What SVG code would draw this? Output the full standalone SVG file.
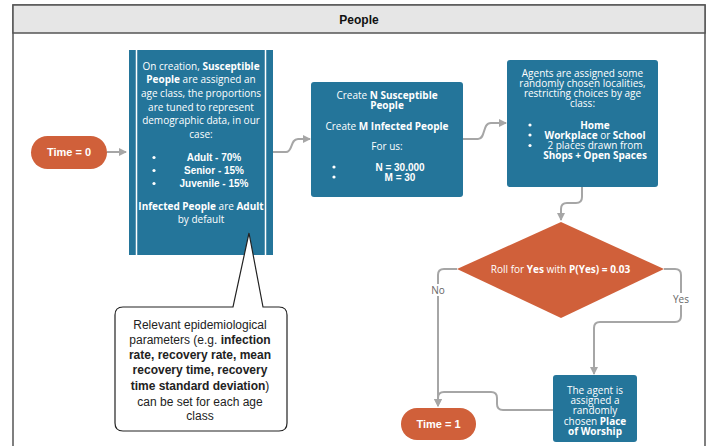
<svg xmlns="http://www.w3.org/2000/svg" width="710" height="446" viewBox="0 0 710 446">
<defs>
<marker id="arr" markerWidth="8" markerHeight="8" refX="7" refY="4" orient="auto" markerUnits="userSpaceOnUse">
<path d="M0,0 L8,4 L0,8 z" fill="#a6a6a6"/>
</marker>
<style>
.conn{fill:none;stroke:#a6a6a6;stroke-width:2;}
.blue{fill:#24759a;}
.orange{fill:#d0603a;}
.bt{font-family:"Open Sans","DejaVu Sans",sans-serif;font-size:10px;fill:#ffffff;text-anchor:middle;}
.bs{font-family:"Liberation Sans",Arial,sans-serif;font-size:10px;font-weight:bold;fill:#ffffff;text-anchor:middle;}
.b{font-weight:bold;}
.pill{font-family:"Liberation Sans",Arial,sans-serif;font-size:11px;font-weight:bold;fill:#ffffff;text-anchor:middle;}
.lbl{font-family:"Open Sans","DejaVu Sans",sans-serif;font-size:10px;fill:#666666;text-anchor:middle;}
.ct{font-family:"Liberation Sans",Arial,sans-serif;font-size:12px;fill:#222222;text-anchor:middle;}
</style>
</defs>
<rect x="0" y="0" width="710" height="446" fill="#ffffff"/>
<g id="pool">
<rect x="13" y="5" width="692" height="460" fill="#ffffff" stroke="#555555" stroke-width="1.5"/>
<rect x="13" y="5" width="692" height="28" fill="#e6e6e6" stroke="#555555" stroke-width="1.5"/>
<text x="359" y="23.5" font-family="Liberation Sans,Arial,sans-serif" font-size="12" font-weight="bold" fill="#111111" text-anchor="middle">People</text>
</g>
<g id="connectors">
<path class="conn" d="M107,152 L126,152" marker-end="url(#arr)"/>
<path class="conn" d="M273,152 L286,152 C293,152 290,139 298,139 L310,139" marker-end="url(#arr)"/>
<path class="conn" d="M463,139 L478,139 C486,139 482,123 491,123 L506,123" marker-end="url(#arr)"/>
<path class="conn" d="M582,187 L582,197 Q582,203 576,203 L567,203 Q561,203 561,209 L561,220" marker-end="url(#arr)"/>
<path class="conn" d="M457,269 L444,269 Q438,269 438,275 L438,406" marker-end="url(#arr)"/>
<path class="conn" d="M664,269 L675,269 Q681,269 681,275 L681,316 Q681,322 675,322 L600,322 Q594,322 594,328 L594,374" marker-end="url(#arr)"/>
<path class="conn" d="M553,410 L503,410 Q497,410 497,404 L497,398 Q497,392 491,392 L444,392 Q438,392 438,398 L438,406" marker-end="url(#arr)"/>
<rect x="428" y="284" width="20" height="12" fill="#ffffff"/>
<text class="lbl" x="438" y="294">No</text>
<rect x="669" y="293" width="24" height="12" fill="#ffffff"/>
<text class="lbl" x="681" y="303">Yes</text>
</g>
<g id="time0">
<rect class="orange" x="31" y="136" width="76" height="33" rx="16.5"/>
<text class="pill" x="69" y="156">Time = 0</text>
</g>
<g id="age-assign">
<rect class="blue" x="129" y="50" width="144" height="205"/>
<line x1="136.5" y1="50" x2="136.5" y2="255" stroke="#ffffff" stroke-width="1.5"/>
<line x1="265.5" y1="50" x2="265.5" y2="255" stroke="#ffffff" stroke-width="1.5"/>
<text class="bt" x="201" y="69.5">On creation, <tspan class="b">Susceptible</tspan></text>
<text class="bt" x="201" y="83"><tspan class="b">People</tspan> are assigned an</text>
<text class="bt" x="201" y="96.5">age class, the proportions</text>
<text class="bt" x="201" y="110.5">are tuned to represent</text>
<text class="bt" x="201" y="124">demographic data, in our</text>
<text class="bt" x="201" y="137.5">case:</text>
<circle cx="154" cy="157.5" r="1.6" fill="#ffffff"/>
<circle cx="154" cy="170.5" r="1.6" fill="#ffffff"/>
<circle cx="154" cy="183.5" r="1.6" fill="#ffffff"/>
<text class="bs" x="214" y="161">Adult - 70%</text>
<text class="bs" x="214" y="174">Senior - 15%</text>
<text class="bs" x="214" y="187">Juvenile - 15%</text>
<text class="bt" x="201" y="210"><tspan class="b">Infected People</tspan> are <tspan class="b">Adult</tspan></text>
<text class="bt" x="201" y="223">by default</text>
</g>
<g id="create">
<rect class="blue" x="311" y="82" width="152" height="115" rx="3"/>
<text class="bt" x="387" y="98.5">Create <tspan class="b">N Susceptible</tspan></text>
<text class="bt b" x="387" y="108.5">People</text>
<text class="bt" x="387" y="129.5">Create <tspan class="b">M Infected People</tspan></text>
<text class="bt" x="387" y="150">For us:</text>
<circle cx="334" cy="167" r="1.6" fill="#ffffff"/>
<circle cx="334" cy="177" r="1.6" fill="#ffffff"/>
<text class="bs" x="400" y="170.5">N = 30.000</text>
<text class="bs" x="400" y="180.5">M = 30</text>
</g>
<g id="localities">
<rect class="blue" x="507" y="60" width="151" height="127" rx="3"/>
<text class="bt" x="582.5" y="77">Agents are assigned some</text>
<text class="bt" x="582.5" y="87">randomly chosen localities,</text>
<text class="bt" x="582.5" y="97">restricting choices by age</text>
<text class="bt" x="582.5" y="107">class:</text>
<circle cx="530" cy="125" r="1.6" fill="#ffffff"/>
<circle cx="530" cy="135" r="1.6" fill="#ffffff"/>
<circle cx="530" cy="145.5" r="1.6" fill="#ffffff"/>
<text class="bt b" x="595" y="128.5">Home</text>
<text class="bt" x="595" y="138.5"><tspan class="b">Workplace</tspan> or <tspan class="b">School</tspan></text>
<text class="bt" x="595" y="149">2 places drawn from</text>
<text class="bt b" x="595" y="159">Shops + Open Spaces</text>
</g>
<g id="roll">
<polygon class="orange" points="561,222 664,269 561,318 457,269"/>
<text class="bt" x="560.5" y="273">Roll for <tspan class="b">Yes</tspan> with <tspan class="b">P(Yes) = 0.03</tspan></text>
</g>
<g id="worship">
<rect class="blue" x="553" y="375" width="84" height="67" rx="3"/>
<text class="bt" x="595" y="393.5">The agent is</text>
<text class="bt" x="595" y="403.5">assigned a</text>
<text class="bt" x="595" y="414">randomly</text>
<text class="bt" x="595" y="424.5">chosen <tspan class="b">Place</tspan></text>
<text class="bt b" x="595" y="434.5">of Worship</text>
</g>
<g id="time1">
<rect class="orange" x="401" y="408" width="75" height="32" rx="16"/>
<text class="pill" x="438.5" y="428">Time = 1</text>
</g>
<g id="callout">
<path d="M123,307 L233,307 L249,233 L263,307 L279,307 Q287,307 287,315 L287,423 Q287,431 279,431 L123,431 Q115,431 115,423 L115,315 Q115,307 123,307 Z" fill="#ffffff" stroke="#222222" stroke-width="1.2"/>
<text class="ct" x="200" y="328.5">Relevant epidemiological</text>
<text class="ct" x="200" y="343.5">parameters (e.g. <tspan class="b">infection</tspan></text>
<text class="ct b" x="200" y="359">rate, recovery rate, mean</text>
<text class="ct b" x="200" y="374">recovery time, recovery</text>
<text class="ct" x="200" y="390"><tspan class="b">time standard deviation</tspan>)</text>
<text class="ct" x="200" y="405.5">can be set for each age</text>
<text class="ct" x="200" y="420">class</text>
</g>
</svg>
